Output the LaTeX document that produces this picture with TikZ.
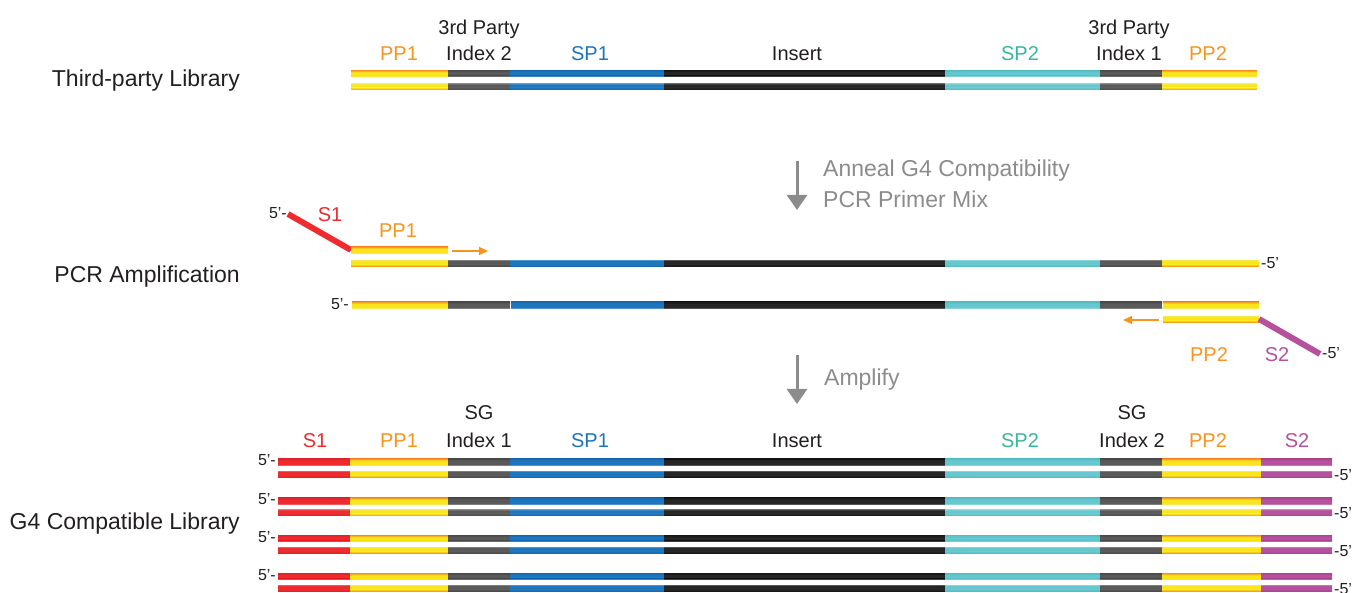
\documentclass[tikz,border=0pt]{standalone}
\usepackage{fontspec}
\setmainfont{Liberation Sans}
\usetikzlibrary{arrows.meta}
\definecolor{yel}{HTML}{F8E51C}
\definecolor{yelE}{HTML}{F7941D}
\definecolor{idx}{HTML}{5A5A5A}
\definecolor{idxE}{HTML}{4A4A4A}
\definecolor{spa}{HTML}{1E77BE}
\definecolor{spaE}{HTML}{1868AE}
\definecolor{ins}{HTML}{262626}
\definecolor{insE}{HTML}{151515}
\definecolor{spb}{HTML}{66C8CE}
\definecolor{spbE}{HTML}{52BDC2}
\definecolor{sa}{HTML}{EE2B2F}
\definecolor{saE}{HTML}{E0222A}
\definecolor{sb}{HTML}{B6519E}
\definecolor{sbE}{HTML}{A8468F}
\definecolor{txt}{HTML}{231F20}
\definecolor{lblor}{HTML}{F7941D}
\definecolor{lblbl}{HTML}{1C75BC}
\definecolor{lblte}{HTML}{36B89C}
\definecolor{lblred}{HTML}{EE2B2F}
\definecolor{lblmag}{HTML}{B6519E}
\definecolor{stepgray}{HTML}{8C8C8C}
% upper strand: dark edge on top, light edge at bottom
\newcommand\strandU[2]{\foreach \xa/\xb/\col in {#2}{%
  \fill[\col] (\xa,#1-3.3) rectangle (\xb,#1+3.3);
  \shade[top color=\col E,bottom color=\col] (\xa,#1-3.3) rectangle (\xb,#1-1.2);
  \shade[top color=\col,bottom color=\col!72!white] (\xa,#1+2.0) rectangle (\xb,#1+3.3);}}
% lower strand: light edge on top, dark edge at bottom
\newcommand\strandL[2]{\foreach \xa/\xb/\col in {#2}{%
  \fill[\col] (\xa,#1-3.3) rectangle (\xb,#1+3.3);
  \shade[top color=\col!72!white,bottom color=\col] (\xa,#1-3.3) rectangle (\xb,#1-2.0);
  \shade[top color=\col,bottom color=\col E] (\xa,#1+1.2) rectangle (\xb,#1+3.3);}}
\tikzset{
  seglbl/.style={anchor=base,inner sep=0pt,font=\fontsize{20}{24}\selectfont,text=txt},
  rowlbl/.style={anchor=base east,inner sep=0pt,font=\fontsize{23}{27}\selectfont,text=txt},
  steplbl/.style={anchor=base west,inner sep=0pt,font=\fontsize{23}{27}\selectfont,text=stepgray},
  endlbl/.style={inner sep=0pt,font=\fontsize{16}{18}\selectfont,text=txt},
  steparrow/.style={draw=stepgray,line width=3pt,-{Triangle[width=20pt,length=15pt]}},
  primerarrow/.style={draw=lblor,line width=1.5pt,-{Triangle[width=8pt,length=9pt]}},
  tailred/.style={draw=sa,line width=6pt,line cap=butt},
  tailmag/.style={draw=sb,line width=6pt,line cap=butt},
}
\begin{document}
\begin{tikzpicture}[x=1pt,y=-1pt]
\useasboundingbox (0,0) rectangle (1352,593);
% ---------- row labels
\node[rowlbl] (r1) at (240,87) {Third-party Library};
\node[rowlbl] (r2) at (240,283) {PCR Amplification};
\node[rowlbl] (r3) at (240,529) {G4 Compatible Library};
% ---------- third-party library
\node[seglbl,text=lblor] (t1) at (399,61) {PP1};
\node[seglbl] (t2a) at (479,35) {3rd Party};
\node[seglbl] (t2b) at (479,61) {Index 2};
\node[seglbl,text=lblbl] (t3) at (590,61) {SP1};
\node[seglbl] (t4) at (797,61) {Insert};
\node[seglbl,text=lblte] (t5) at (1020,61) {SP2};
\node[seglbl] (t6a) at (1129,35) {3rd Party};
\node[seglbl] (t6b) at (1129,61) {Index 1};
\node[seglbl,text=lblor] (t7) at (1208,61) {PP2};
\strandU{73.5}{351/448/yel,448/510/idx,510/664/spa,664/945/ins,945/1100/spb,1100/1162/idx,1162/1257/yel}
\strandL{86.5}{351/448/yel,448/510/idx,510/664/spa,664/945/ins,945/1100/spb,1100/1162/idx,1162/1257/yel}
% ---------- step 1 arrow
\coordinate (a1s) at (797,161);
\coordinate (a1e) at (797,210);
\draw[steparrow] (a1s) -- (a1e);
\node[steplbl] (s1a) at (823,177) {Anneal G4 Compatibility};
\node[steplbl] (s1b) at (823,208) {PCR Primer Mix};
% ---------- PCR amplification
\coordinate (s1start) at (288,214);
\coordinate (s1end) at (351,250);
\draw[tailred] (s1start) -- (s1end);
\node[endlbl,anchor=base east] (p5a) at (287,219) {5’-};
\node[seglbl,text=lblred] (pS1) at (330,222) {S1};
\node[seglbl,text=lblor] (pPP1) at (398,238) {PP1};
\strandU{250}{351/448/yel}
\coordinate (pa1s) at (452,251);
\coordinate (pa1e) at (488,251);
\draw[primerarrow] (pa1s) -- (pa1e);
\strandL{263}{351/448/yel,448/510/idx,510/664/spa,664/945/ins,945/1100/spb,1100/1162/idx,1162/1259/yel}
\node[endlbl,anchor=west] (p5b) at (1261,263) {-5’};
\strandU{305}{352/448/yel,448/510/idx,511/664/spa,664/945/ins,945/1100/spb,1100/1162/idx,1163/1259/yel}
\node[endlbl,anchor=east] (p5c) at (349,304) {5’-};
\strandL{319}{1163/1259/yel}
\coordinate (pa2s) at (1159,320);
\coordinate (pa2e) at (1123,320);
\draw[primerarrow] (pa2s) -- (pa2e);
\coordinate (s2start) at (1259,319);
\coordinate (s2end) at (1320,354);
\draw[tailmag] (s2start) -- (s2end);
\node[endlbl,anchor=west] (p5d) at (1322,353) {-5’};
\node[seglbl,text=lblor] (pPP2) at (1209,362) {PP2};
\node[seglbl,text=lblmag] (pS2) at (1277,362) {S2};
% ---------- step 2 arrow
\coordinate (a2s) at (797,355);
\coordinate (a2e) at (797,404);
\draw[steparrow] (a2s) -- (a2e);
\node[steplbl] (s2a) at (824,385) {Amplify};
% ---------- G4 compatible library
\node[seglbl,text=lblred] (b1) at (315,447) {S1};
\node[seglbl,text=lblor] (b2) at (399,447) {PP1};
\node[seglbl] (b3a) at (479,419) {SG};
\node[seglbl] (b3b) at (479,447) {Index 1};
\node[seglbl,text=lblbl] (b4) at (590,447) {SP1};
\node[seglbl] (b5) at (797,447) {Insert};
\node[seglbl,text=lblte] (b6) at (1020,447) {SP2};
\node[seglbl] (b7a) at (1132,419) {SG};
\node[seglbl] (b7b) at (1132,447) {Index 2};
\node[seglbl,text=lblor] (b8) at (1208,447) {PP2};
\node[seglbl,text=lblmag] (b9) at (1297,447) {S2};
\foreach \yu/\yl/\nm in {462/474/q1,501/512.5/q2,538.5/550/q3,576.5/588/q4}{
  \strandU{\yu}{278/350/sa,350/448/yel,448/510/idx,510/664/spa,664/945/ins,945/1100/spb,1100/1162/idx,1162/1261/yel,1261/1332/sb}
  \strandL{\yl}{278/350/sa,350/448/yel,448/510/idx,510/664/spa,664/945/ins,945/1100/spb,1100/1162/idx,1162/1261/yel,1261/1332/sb}
  \node[endlbl,anchor=east] (\nm l) at (276,\yu-1.5) {5’-};
  \node[endlbl,anchor=west] (\nm r) at (1334,\yl+1) {-5’};
}
\end{tikzpicture}
\end{document}
